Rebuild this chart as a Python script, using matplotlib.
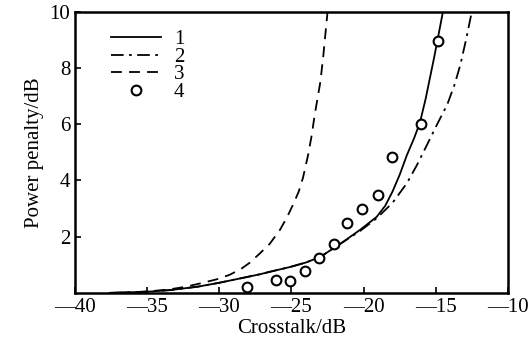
import matplotlib
matplotlib.use("Agg")
import matplotlib.pyplot as plt

plt.rcParams['font.family'] = ['Liberation Serif', 'DejaVu Serif']

# curve 1 (solid)
x1 = [-37.6, -35.0, -33.4, -31.5, -30.0, -28.5, -27.2, -26.5, -25.1, -24.0, -23.0,
      -21.6, -20.25, -19.1, -18.5, -18.0, -17.5, -17.0, -16.5, -16.1, -15.7, -15.4,
      -15.1, -14.8, -14.5]
y1 = [0.0, 0.04, 0.1, 0.22, 0.36, 0.52, 0.66, 0.75, 0.92, 1.08, 1.28,
      1.75, 2.24, 2.7, 3.1, 3.6, 4.2, 4.9, 5.5, 6.05, 6.9, 7.65,
      8.4, 9.2, 10.0]

# curve 2 (dash-dot)
x2 = [-37.6, -35.0, -33.4, -31.5, -30.0, -28.5, -27.2, -26.5, -25.1, -24.0, -23.0,
      -21.6, -20.25, -19.1, -18.0, -17.0, -16.3, -15.6, -14.9, -14.2, -13.7, -13.3,
      -12.9, -12.5]
y2 = [0.0, 0.04, 0.1, 0.22, 0.36, 0.52, 0.66, 0.75, 0.92, 1.08, 1.28,
      1.75, 2.2, 2.65, 3.2, 3.9, 4.55, 5.27, 6.0, 6.7, 7.4, 8.1,
      9.0, 10.0]

# curve 3 (dashed)
x3 = [-37.0, -35.0, -33.5, -32.3, -31.3, -30.2, -29.3, -28.5, -27.9, -27.2, -26.5,
      -25.8, -25.3, -24.9, -24.5, -24.2, -23.85, -23.6, -23.4, -23.2, -23.0, -22.8,
      -22.65, -22.5]
y3 = [0.0, 0.05, 0.12, 0.22, 0.34, 0.48, 0.64, 0.85, 1.07, 1.4, 1.75,
      2.24, 2.7, 3.13, 3.6, 4.1, 4.9, 5.6, 6.3, 6.9, 7.5, 8.4,
      9.2, 10.0]

# measured points (4)
x4 = [-28.1, -26.1, -25.1, -24.05, -23.1, -22.05, -21.15, -20.1, -19.0, -18.0, -16.0, -14.85]
y4 = [0.21, 0.46, 0.43, 0.78, 1.25, 1.74, 2.49, 2.99, 3.49, 4.84, 6.0, 8.97]

xticks = [-40, -35, -30, -25, -20, -15, -10]
yticks = [2, 4, 6, 8, 10]

fig = plt.figure(figsize=(5.29, 3.47), dpi=100)
ax = fig.add_axes([0.142, 0.156, 0.818, 0.81])

ax.plot(x1, y1, color='black', lw=1.3, ls='-', label='1')
ax.plot(x2, y2, color='black', lw=1.3, ls=(0, (7, 3, 1.5, 3)), label='2')
ax.plot(x3, y3, color='black', lw=1.3, ls=(0, (6, 4)), label='3')
ax.plot(x4, y4, ls='none', marker='o', ms=7, mfc='white', mec='black', mew=1.5, label='4')

ax.set_xlim(-40, -10)
ax.set_ylim(0, 10)
ax.set_xticks(xticks)
ax.set_xticklabels(['\u2014' + str(abs(t)) for t in xticks])
ax.set_yticks(yticks)
ax.tick_params(direction='in', length=4, width=1.2, labelsize=15, colors='black')
ax.tick_params(axis='x', pad=4)
for s in ax.spines.values():
    s.set_linewidth(1.8)

ax.set_xlabel('Crosstalk/dB', fontsize=15, labelpad=1)
ax.set_ylabel('Power penalty/dB', fontsize=15, labelpad=4)

ax.legend(loc='upper left', bbox_to_anchor=(0.045, 0.995), frameon=False, fontsize=15,
          handlelength=2.4, handletextpad=0.6, labelspacing=-0.1, borderpad=0.3)

fig.savefig('out.png', dpi=100)
